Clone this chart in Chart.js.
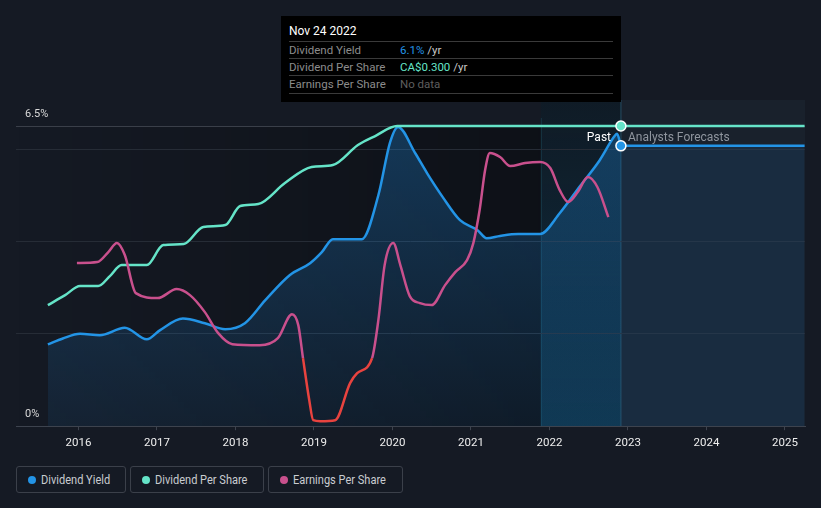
<!DOCTYPE html>
<html>
<head>
<meta charset="utf-8">
<script src="https://cdn.jsdelivr.net/npm/chart.js@4.4.0/dist/chart.umd.min.js"></script>
<style>
  body { margin: 0; background: #151a24; font-family: Roboto, sans-serif; }
  #wrap { position: relative; width: 821px; height: 508px; overflow: hidden; }
  #box { position: absolute; left: 0; top: 0; width: 821px; height: 462px; }
  .tip { position: absolute; left: 281px; top: 16px; width: 340px; height: 86px; background: #000; }
  .tip .ttl { position: absolute; left: 8px; top: 8px; color: #fff; font-size: 12px; }
  .tip .row { position: absolute; left: 8px; width: 324px; height: 17px; border-top: 1px solid #3a3a3a; font-size: 11.5px; line-height: 17px; color: #8c8c8c; }
  .tip .row span.v { position: absolute; left: 111px; }
  .tip .end { position: absolute; left: 8px; width: 324px; top: 77px; border-top: 1px solid #3a3a3a; }
  .past { position: absolute; top: 130px; font-size: 12px; }
  .legend { position: absolute; left: 16px; top: 466px; display: flex; gap: 4px; }
  .legend div { box-sizing: border-box; height: 27px; border: 1px solid #3b404a; border-radius: 3px; padding-left: 11px; display: flex; align-items: center; color: #c9ccd1; font-size: 12px; white-space: nowrap; }
  .legend i { display: inline-block; width: 8px; height: 8px; border-radius: 50%; margin-right: 5px; }
  .legend span { display: inline-block; transform: scaleX(0.92); transform-origin: left center; }
</style>
</head>
<body>
<div id="wrap">
  <div id="box"><canvas id="myChart"></canvas></div>

  <div class="tip">
    <div class="ttl">Nov 24 2022</div>
    <div class="row" style="top:25px">Dividend Yield<span class="v"><span style="color:#2394e6">6.1%</span> <span style="color:#c8c8c8">/yr</span></span></div>
    <div class="row" style="top:42px">Dividend Per Share<span class="v"><span style="color:#65e4c8">CA$0.300</span> <span style="color:#c8c8c8">/yr</span></span></div>
    <div class="row" style="top:59px">Earnings Per Share<span class="v" style="color:#5e5e5e">No data</span></div>
    <div class="end"></div>
  </div>

  <div class="past" style="right:210px;color:#fff">Past</div>
  <div class="past" style="left:628px;color:#8f959e">Analysts Forecasts</div>

  <div class="legend">
    <div style="width:110px"><i style="background:#2394e6"></i><span>Dividend Yield</span></div>
    <div style="width:134px"><i style="background:#65e4c8"></i><span>Dividend Per Share</span></div>
    <div style="width:135px"><i style="background:#c9508d"></i><span>Earnings Per Share</span></div>
  </div>
</div>

<script>
'use strict'

const tickYears = [2016, 2017, 2018, 2019, 2020, 2021, 2022, 2023, 2024, 2025];
const yTicks = [0, 2, 4, 6, 6.5];

const presentDate = 2022.91;
const bandStart = 2021.89;

// dividend yield (%)
const yieldDates = [2015.61, 2015.8, 2016.02, 2016.27, 2016.59, 2016.87, 2017.04, 2017.33, 2017.61, 2017.87,
  2018.12, 2018.38, 2018.69, 2018.95, 2019.10, 2019.24, 2019.61, 2019.82, 2019.97, 2020.07,
  2020.29, 2020.44, 2020.64, 2020.86, 2021.08, 2021.2, 2021.37, 2021.6, 2021.88, 2022.13,
  2022.39, 2022.64, 2022.82, 2022.86, 2022.91];
const yieldValues = [1.77, 1.9, 2.0, 1.97, 2.13, 1.88, 2.08, 2.33, 2.23, 2.10,
  2.23, 2.73, 3.27, 3.53, 3.77, 4.05, 4.05, 5.0, 6.15, 6.48,
  5.91, 5.48, 4.96, 4.46, 4.25, 4.07, 4.12, 4.16, 4.16, 4.61,
  5.2, 5.76, 6.26, 6.33, 6.07];

const forecastDates = [2022.91, 2025.25];
const forecastYield = [6.07, 6.07];

// dividend per share (CA$)
const dpsDates = [2015.61, 2015.83, 2016.02, 2016.25, 2016.40, 2016.55, 2016.87, 2017.08, 2017.34, 2017.59,
  2017.87, 2018.06, 2018.29, 2018.63, 2018.97, 2019.24, 2019.56, 2019.78, 2020.06, 2022.91, 2025.25];
const dpsValues = [0.121, 0.131, 0.140, 0.140, 0.150, 0.161, 0.161, 0.181, 0.182, 0.199,
  0.201, 0.220, 0.222, 0.243, 0.259, 0.261, 0.281, 0.290, 0.300, 0.300, 0.300];

// earnings per share (CA$)
const epsDates = [2015.98, 2016.24, 2016.38, 2016.49, 2016.59, 2016.73, 2017.01, 2017.25, 2017.42, 2017.61,
  2017.78, 2017.96, 2018.31, 2018.54, 2018.72, 2018.80, 2018.86, 2018.94, 2018.99, 2019.08,
  2019.27, 2019.46, 2019.55, 2019.74, 2019.82, 2019.90, 2020.01, 2020.10, 2020.22, 2020.35,
  2020.50, 2020.67, 2020.80, 2020.95, 2021.03, 2021.11, 2021.18, 2021.24, 2021.37, 2021.50,
  2021.69, 2021.88, 2022.01, 2022.13, 2022.24, 2022.36, 2022.49, 2022.61, 2022.75];
const epsValues = [0.475, 0.48, 0.53, 0.575, 0.515, 0.325, 0.30, 0.345, 0.315, 0.23,
  0.125, 0.07, 0.065, 0.10, 0.22, 0.165, 0, -0.21, -0.31, -0.315,
  -0.31, -0.125, -0.075, 0, 0.19, 0.465, 0.575, 0.465, 0.31, 0.275,
  0.265, 0.365, 0.43, 0.49, 0.575, 0.74, 0.94, 1.025, 1.005, 0.96,
  0.975, 0.98, 0.95, 0.84, 0.78, 0.83, 0.905, 0.855, 0.705];

function pts(xs, ys){
  return xs.map((x, i) => ({x: x, y: ys[i]}));
}

const blue = '#2394e6';
const teal = '#65e4c8';
const pink = '#c9508d';
const red = '#e8433f';

const backdrop = {
  id: 'backdrop',
  beforeDraw(chart){
    const ctx = chart.ctx;
    const a = chart.chartArea;
    const xs = chart.scales.x;
    const xp = xs.getPixelForValue(presentDate);
    const xb = xs.getPixelForValue(bandStart);
    ctx.save();
    // past area gets darker towards today
    let g = ctx.createLinearGradient(a.left, 0, xb, 0);
    g.addColorStop(0, 'rgba(0,0,0,0)');
    g.addColorStop(1, 'rgba(0,0,0,0.35)');
    ctx.fillStyle = g;
    ctx.fillRect(a.left, a.top, xb - a.left, a.bottom - a.top);
    // last year band
    g = ctx.createLinearGradient(0, a.top - 26, 0, a.bottom);
    g.addColorStop(0, 'rgba(8,30,42,0.4)');
    g.addColorStop(1, 'rgba(12,62,90,0.65)');
    ctx.fillStyle = g;
    ctx.fillRect(xb, a.top - 26, xp - xb, a.bottom - a.top + 26);
    ctx.fillStyle = 'rgba(40,110,130,0.3)';
    ctx.fillRect(xb, a.top - 8, 1, a.bottom - a.top + 8);
    // forecast area
    ctx.fillStyle = '#19212c';
    ctx.fillRect(xp, a.top - 26, a.right - xp, a.bottom - a.top + 26);
    ctx.fillStyle = 'rgba(50,110,135,0.6)';
    ctx.fillRect(xp - 0.5, a.top - 26, 1, a.bottom - a.top + 26);
    ctx.restore();
  }
};

const dot = ctx => (ctx.raw && ctx.raw.x === presentDate) ? 5 : 0;

const ctx = document.getElementById('myChart').getContext('2d');
Chart.defaults.font.family = 'Roboto, sans-serif';

const myChart = new Chart(ctx, {
  type: 'line',
  data: {
    datasets: [
      {
        label: 'Earnings Per Share',
        data: pts(epsDates, epsValues),
        yAxisID: 'yE',
        borderColor: pink,
        borderWidth: 2.5,
        pointRadius: 0,
        cubicInterpolationMode: 'monotone',
        segment: {
          borderColor: c => (c.p0.parsed.y < 0 || c.p1.parsed.y < 0) ? red : pink
        },
        clip: false,
        order: 1
      },
      {
        label: 'Dividend Per Share',
        data: pts(dpsDates, dpsValues),
        yAxisID: 'yD',
        borderColor: teal,
        borderWidth: 2.5,
        pointRadius: dot,
        pointBackgroundColor: teal,
        pointBorderColor: '#ffffff',
        pointBorderWidth: 1.5,
        cubicInterpolationMode: 'monotone',
        clip: false,
        order: 2
      },
      {
        label: 'Forecast Yield',
        data: pts(forecastDates, forecastYield),
        yAxisID: 'y',
        borderColor: blue,
        borderWidth: 2.5,
        pointRadius: dot,
        pointBackgroundColor: blue,
        pointBorderColor: '#ffffff',
        pointBorderWidth: 1.5,
        fill: 'origin',
        backgroundColor: 'rgba(33,120,200,0.13)',
        clip: false,
        order: 3
      },
      {
        label: 'Dividend Yield',
        data: pts(yieldDates, yieldValues),
        yAxisID: 'y',
        borderColor: blue,
        borderWidth: 2.5,
        pointRadius: 0,
        cubicInterpolationMode: 'monotone',
        fill: 'origin',
        backgroundColor: c => {
          const a = c.chart.chartArea;
          if (!a) return 'rgba(33,150,243,0.15)';
          const g = c.chart.ctx.createLinearGradient(0, a.top, 0, a.bottom);
          g.addColorStop(0, 'rgba(33,150,243,0.28)');
          g.addColorStop(1, 'rgba(33,150,243,0.08)');
          return g;
        },
        clip: false,
        order: 4
      }
    ]
  },
  options: {
    responsive: true,
    maintainAspectRatio: false,
    animation: false,
    events: [],
    layout: { padding: { left: 16, right: 16, top: 126, bottom: 6 } },
    plugins: { legend: { display: false }, tooltip: { enabled: false } },
    scales: {
      x: {
        type: 'linear',
        min: 2015.204,
        max: 2025.255,
        afterBuildTicks: s => { s.ticks = tickYears.map(v => ({value: v})); },
        ticks: {
          color: '#eeeeee',
          padding: 6,
          maxRotation: 0,
          font: { size: 11.5 },
          callback: v => String(v)
        },
        grid: { drawOnChartArea: false, drawTicks: true, tickLength: 4, color: '#3d434e' },
        border: { display: true, color: '#3d434e' }
      },
      y: {
        min: 0,
        max: 6.5,
        afterBuildTicks: s => { s.ticks = yTicks.map(v => ({value: v})); },
        afterFit: s => { s.width = 0; },
        ticks: {
          mirror: true,
          padding: 9,
          labelOffset: -12,
          color: '#d9d9d9',
          font: { size: 11 },
          callback: v => v === 0 ? '0%' : (v === 6.5 ? '6.5%' : '')
        },
        grid: { drawTicks: false, color: c => c.tick && c.tick.value === 6.5 ? '#3a3f49' : '#262c36' },
        border: { display: false }
      },
      yD: { display: false, min: 0, max: 0.3 },
      yE: { display: false, min: -0.34, max: 1.16 }
    }
  },
  plugins: [backdrop]
});
</script>
</body>
</html>
